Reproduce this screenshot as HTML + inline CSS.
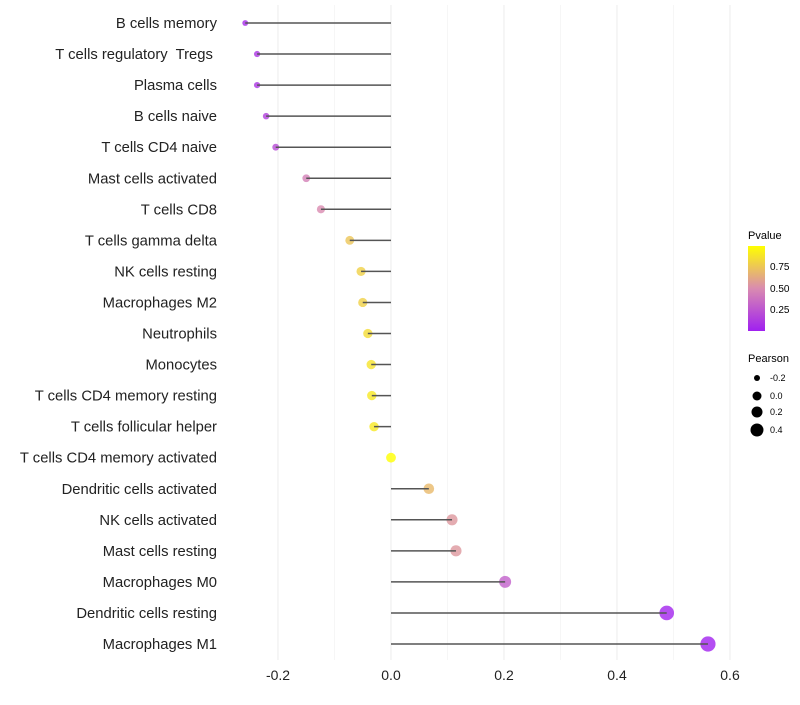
<!DOCTYPE html>
<html><head><meta charset="utf-8"><style>
body{margin:0;background:#fff;font-family:"Liberation Sans",sans-serif}
</style></head><body>
<svg id="chart" width="800" height="700" xmlns="http://www.w3.org/2000/svg">
<defs><linearGradient id="pg" x1="0" y1="1" x2="0" y2="0">
<stop offset="0" stop-color="#a020f0"/><stop offset="0.5" stop-color="#d98bb0"/><stop offset="1" stop-color="#ffff00"/>
</linearGradient></defs>
<g id="grid"></g><g id="marks"></g><g id="labels"></g>
<g font-size="10">
<text x="748" y="239" font-size="11">Pvalue</text>
<rect x="748" y="246" width="17" height="85" fill="url(#pg)"/>
<text x="770" y="270">0.75</text><text x="770" y="292">0.50</text><text x="770" y="313">0.25</text>
</g>
<g font-size="9">
<text x="748" y="362" font-size="11">Pearson</text>
<circle cx="757" cy="378" r="3"/><text x="770" y="381">-0.2</text>
<circle cx="757" cy="396" r="4.5"/><text x="770" y="399">0.0</text>
<circle cx="757" cy="412" r="5.5"/><text x="770" y="415">0.2</text>
<circle cx="757" cy="430" r="6.5"/><text x="770" y="433">0.4</text>
</g>
</svg>
<script>
const categories=["B cells memory","T cells regulatory  Tregs ","Plasma cells","B cells naive","T cells CD4 naive","Mast cells activated","T cells CD8","T cells gamma delta","NK cells resting","Macrophages M2","Neutrophils","Monocytes","T cells CD4 memory resting","T cells follicular helper","T cells CD4 memory activated","Dendritic cells activated","NK cells activated","Mast cells resting","Macrophages M0","Dendritic cells resting","Macrophages M1"];
const pearson=[-0.258,-0.237,-0.237,-0.221,-0.204,-0.150,-0.124,-0.073,-0.053,-0.050,-0.041,-0.035,-0.034,-0.030,0,0.067,0.108,0.115,0.202,0.488,0.561];
const pvalue=[0.05,0.1,0.1,0.15,0.2,0.45,0.5,0.75,0.8,0.8,0.85,0.88,0.9,0.9,1.0,0.7,0.55,0.55,0.3,0.02,0.01];
const xTicks=[-0.2,0,0.2,0.4,0.6];
const xTickLabels=["-0.2","0.0","0.2","0.4","0.6"];
const ns="http://www.w3.org/2000/svg";
const X=v=>391+v*565;
const Y=i=>23+i*31.05;
function lerp(a,b,t){return a.map((c,k)=>Math.round(c+(b[k]-c)*t));}
function color(p){const lo=[160,32,240],mid=[217,139,176],hi=[255,255,0];
 const c=p<0.5?lerp(lo,mid,p/0.5):lerp(mid,hi,(p-0.5)/0.5);return `rgb(${c})`;}
function mk(tag,attrs,parent){const e=document.createElementNS(ns,tag);for(const k in attrs)e.setAttribute(k,attrs[k]);parent.appendChild(e);return e;}
const grid=document.getElementById('grid'),marks=document.getElementById('marks'),labels=document.getElementById('labels');
[-0.1,0.1,0.3,0.5].forEach(v=>{const l=mk('line',{x1:X(v),x2:X(v),y1:5,y2:660,stroke:'#f6f6f6','stroke-width':1},grid);

});
xTicks.forEach((t,i)=>{const l=mk('line',{x1:X(t),x2:X(t),y1:5,y2:660,stroke:'#ededed','stroke-width':1.1},grid);


const tx=mk('text',{x:X(t),y:680,'text-anchor':'middle','font-size':14,fill:'#222'},labels);tx.textContent=xTickLabels[i];

});
categories.forEach((c,i)=>{
 const y=Y(i);
 const tx=mk('text',{x:217,y:y+5,'text-anchor':'end','font-size':14.8,fill:'#222'},labels);tx.textContent=c;
 tx.setAttribute('xml:space','preserve');
 tx.style.whiteSpace='pre';
 
 
 const r=Math.sqrt(Math.max(2,24+60*pearson[i]));
 const d=mk('circle',{cx:X(pearson[i]),cy:y,r:r,fill:color(pvalue[i]),'fill-opacity':0.8},marks);
 
 
 const ln=mk('line',{x1:X(0),x2:X(pearson[i]),y1:y,y2:y,stroke:'#555','stroke-width':1.5},marks);
 
 
});
</script>
</body></html>
